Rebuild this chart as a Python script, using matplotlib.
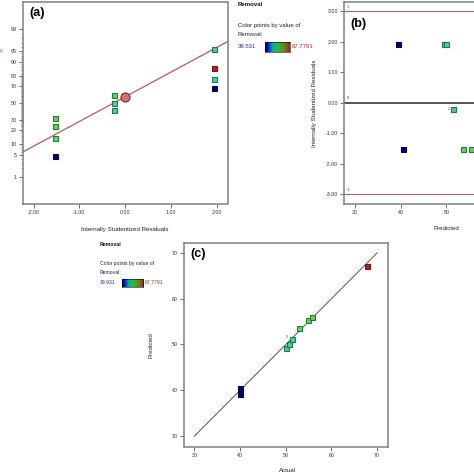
import numpy as np
import matplotlib
matplotlib.use("Agg")
import matplotlib.pyplot as plt
from matplotlib.colors import LinearSegmentedColormap, to_rgb
from statistics import NormalDist

plt.rcParams['font.family'] = ['Liberation Sans', 'DejaVu Sans']

# ---- data ----
# (a) normal probability plot of residuals
a_resid = [-1.52, -1.52, -1.52, -1.52, -0.23, -0.23, -0.23, 1.94, 1.94, 1.94, 1.94]
a_prob = [32.3, 23.3, 13.8, 4.6, 59.5, 50.4, 41.3, 95.6, 86.7, 77.3, 68.1]
a_removal = [55.5, 55.0, 53.0, 39.9, 53.5, 51.0, 50.5, 50.0, 67.78, 50.5, 39.9]
a_center_resid = 0.0
a_center_prob = 57.5
a_line_slope = 0.776
a_line_icpt = 0.19
a_prob_ticks = [1, 5, 10, 20, 30, 50, 70, 80, 90, 95, 99]

# (b) residuals vs predicted
b_pred = [39.3, 49.4, 50.0, 51.5, 40.5, 53.6, 55.4]
b_resid = [1.93, 1.93, 1.93, -0.22, -1.52, -1.52, -1.52]
b_removal = [39.9, 51.5, 51.5, 50.5, 39.9, 54.5, 55.5]
b_count = [1, 1, 1, 2, 1, 1, 1]
b_limits = [3, 0, -3]

# (c) predicted vs actual
c_actual = [40.0, 40.0, 50.0, 50.8, 51.3, 52.9, 54.9, 55.7, 67.8]
c_pred = [40.4, 39.1, 49.3, 50.0, 51.3, 53.5, 55.4, 56.0, 67.1]
c_count = [1, 1, 1, 1, 2, 1, 1, 1, 1]

rmin_b, rmax_b = "39.531", "67.7791"
rmin_c, rmax_c = "39.931", "67.7791"
vmin, vmax = 39.931, 67.7791

cmap = LinearSegmentedColormap.from_list(
    "de", [(0, '#000070'), (0.08, '#0000c0'), (0.3, '#12a6a0'),
           (0.5, '#25c03a'), (0.8, '#6e7e1e'), (1, '#b01818')])

W = 474.0
def fx(x): return x / W
def fy(y): return 1 - y / W

def mix(c, other, t):
    c = np.array(to_rgb(c)); o = np.array(to_rgb(other))
    return tuple(c * (1 - t) + o * t)

def squares(ax, xs, ys, vals, ms=3.6):
    for x, y, v in zip(xs, ys, vals):
        c = to_rgb(cmap((v - vmin) / (vmax - vmin)))
        ax.plot(x, y, 's', ms=ms, mfc=mix(c, 'white', 0.4 * c[1]),
                mec=mix(c, 'black', 0.3), mew=0.8, zorder=5)

def style(ax):
    for s in ax.spines.values():
        s.set_color('#808080')
        s.set_linewidth(1.1)
    ax.tick_params(labelsize=3.8, length=3, width=0.6, color='#555555',
                   labelcolor='#333333', pad=1.5)

fig = plt.figure(figsize=(4.74, 4.74), dpi=100)

# ---- (a) ----
axa = fig.add_axes([fx(23), fy(204), 204.5 / W, 202.5 / W])
style(axa)
z = [NormalDist().inv_cdf(p / 100) for p in a_prob]
squares(axa, a_resid, z, a_removal)
xl = np.array([-2.23, 2.24])
axa.plot(xl, a_line_slope * xl + a_line_icpt, color='#b85a5a', lw=0.9, zorder=3)
zc = NormalDist().inv_cdf(a_center_prob / 100)
axa.plot(a_center_resid, zc, 'o', ms=6.5, mfc='#d47272', mec='#7a2a2a', mew=0.8, zorder=6)
axa.set_xlim(-2.23, 2.24)
axa.set_ylim(-3.18, 3.19)
axa.set_xticks([-2, -1, 0, 1, 2])
axa.set_xticklabels(['-2.00', '-1.00', '0.00', '1.00', '2.00'])
axa.set_yticks([NormalDist().inv_cdf(p / 100) for p in a_prob_ticks])
axa.set_yticklabels([str(p) for p in a_prob_ticks])
axa.set_yticks([NormalDist().inv_cdf(p / 100) for p in range(1, 100)], minor=True)
axa.tick_params(axis='y', which='minor', length=1.5, width=0.4, color='#555555')
fig.text(fx(125), fy(229), 'Internally Studentized Residuals', fontsize=4.4,
         ha='center', va='center', color='#222222')
fig.text(fx(2), fy(50), '%', fontsize=3.5, color='#b05050', ha='center', va='center', rotation=90)
fig.text(fx(29), fy(13), '(a)', fontsize=9, fontweight='bold', ha='left', va='center')

# ---- (b) ----
axb = fig.add_axes([fx(344.3), fy(204), 204 / W, 202.3 / W])
style(axb)
squares(axb, b_pred, b_resid, b_removal)
for x, y, n in zip(b_pred, b_resid, b_count):
    if n > 1:
        axb.text(x - 0.9, y, str(n), fontsize=2.8, ha='center', va='center', color='#444444')
for lv in b_limits:
    if lv == 0:
        axb.axhline(lv, color='#555555', lw=1.4, zorder=2)
    else:
        axb.axhline(lv, color='#b06060', lw=0.8, zorder=2)
    axb.text(28.2, lv + 0.08, str(lv), fontsize=2.8, ha='left', va='bottom', color='#444444')
axb.set_xlim(27.6, 72.4)
axb.set_ylim(-3.33, 3.32)
axb.set_xticks([30, 40, 50])
axb.set_yticks([3, 2, 1, 0, -1, -2, -3])
axb.set_yticklabels(['3.00', '2.00', '1.00', '0.00', '-1.00', '-2.00', '-3.00'])
axb.set_ylabel('Internally Studentized Residuals', fontsize=4.4, color='#222222', labelpad=6)
fig.text(fx(446), fy(229), 'Predicted', fontsize=4.4, ha='center', va='center', color='#222222')
fig.text(fx(350), fy(24), '(b)', fontsize=9, fontweight='bold', ha='left', va='center')

# ---- (c) ----
axc = fig.add_axes([fx(184.3), fy(446.7), 203.4 / W, 204 / W])
style(axc)
lim = np.array([30, 70])
axc.plot(lim, lim, color='#555555', lw=0.7, zorder=3)
squares(axc, c_actual, c_pred, c_actual)
for x, y, n in zip(c_actual, c_pred, c_count):
    if n > 1:
        axc.text(x - 1.0, y + 0.3, str(n), fontsize=2.8, ha='center', va='center', color='#444444')
axc.set_xlim(27.8, 72.3)
axc.set_ylim(27.7, 72.2)
axc.set_xticks([30, 40, 50, 60, 70])
axc.set_yticks([30, 40, 50, 60, 70])
fig.text(fx(287), fy(470), 'Actual', fontsize=4.4, ha='center', va='center', color='#222222')
fig.text(fx(151), fy(345), 'Predicted', fontsize=4.4, ha='center', va='center',
         rotation=90, color='#222222')
fig.text(fx(190), fy(254), '(c)', fontsize=9, fontweight='bold', ha='left', va='center')

# ---- colour legends ----
grad = np.linspace(0, 1, 128).reshape(1, -1)

def legend(x0, y_head, y_l1, y_l2, y_bar, bar_x0, bar_x1, bar_h, lo, hi, fs):
    fig.text(fx(x0), fy(y_head), 'Removal', fontsize=fs, fontweight='bold', ha='left',
             va='center', color='#111111')
    fig.text(fx(x0), fy(y_l1), 'Color points by value of', fontsize=fs, ha='left',
             va='center', color='#222222')
    fig.text(fx(x0), fy(y_l2), 'Removal:', fontsize=fs, ha='left', va='center', color='#222222')
    fig.text(fx(x0), fy(y_bar), lo, fontsize=fs, ha='left', va='center', color='#2a2a90')
    cax = fig.add_axes([fx(bar_x0), fy(y_bar + bar_h / 2), (bar_x1 - bar_x0) / W, bar_h / W])
    cax.imshow(grad, aspect='auto', cmap=cmap)
    cax.set_xticks([]); cax.set_yticks([])
    for s in cax.spines.values():
        s.set_linewidth(0.4)
    fig.text(fx(bar_x1 + 2), fy(y_bar), hi, fontsize=fs, ha='left', va='center', color='#a03030')

legend(238, 4, 25, 35, 47, 265, 290, 10, rmin_b, rmax_b, 4.3)
legend(100, 245, 264, 272, 283, 122, 143, 8, rmin_c, rmax_c, 3.7)

fig.savefig('out.png', dpi=100)
